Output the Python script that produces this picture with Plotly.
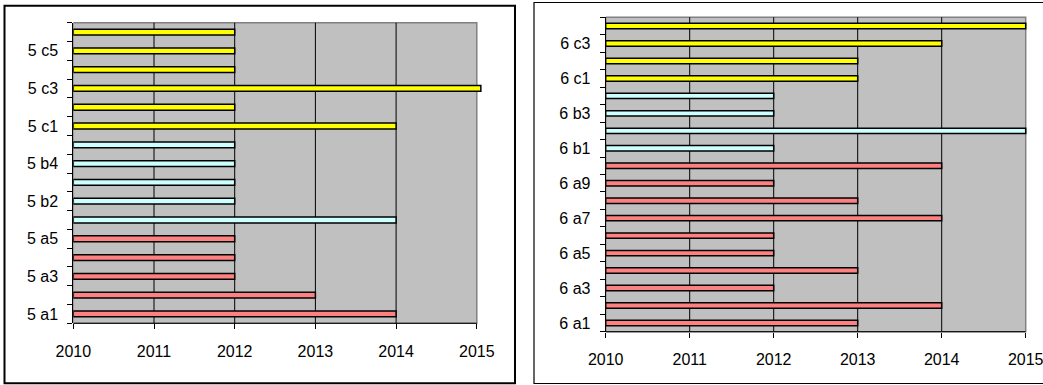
import plotly.graph_objects as go

# ---------------- data ----------------
left_a_labels = ["5 a1", "5 a2", "5 a3", "5 a4", "5 a5"]
left_a_values = [2014, 2013, 2012, 2012, 2012]
left_b_labels = ["5 b1", "5 b2", "5 b3", "5 b4", "5 b5"]
left_b_values = [2014, 2012, 2012, 2012, 2012]
left_c_labels = ["5 c1", "5 c2", "5 c3", "5 c4", "5 c5", "5 c6"]
left_c_values = [2014, 2012, 2015.05, 2012, 2012, 2012]

right_a_labels = ["6 a1", "6 a2", "6 a3", "6 a4", "6 a5", "6 a6", "6 a7", "6 a8", "6 a9", "6 a10"]
right_a_values = [2013, 2014, 2012, 2013, 2012, 2012, 2014, 2013, 2012, 2014]
right_b_labels = ["6 b1", "6 b2", "6 b3", "6 b4"]
right_b_values = [2012, 2015, 2012, 2012]
right_c_labels = ["6 c1", "6 c2", "6 c3", "6 c4"]
right_c_values = [2013, 2013, 2014, 2015]

year_ticks = [2010, 2011, 2012, 2013, 2014, 2015]
BASE_YEAR = 2010

COLORS = {"a": "#FF8080", "b": "#CCFFFF", "c": "#FFFF00"}
FONT = "Liberation Sans, Arial, sans-serif"
W, H = 1043, 385

fig = go.Figure()


def add_chart(groups, xa, ya, px_left, px_per_year, py_top, py_bottom):
    labels_all = []
    start = 0
    for key, labels, values in groups:
        idx = list(range(start, start + len(labels)))
        fig.add_trace(go.Bar(
            y=idx, x=[v - BASE_YEAR for v in values], base=BASE_YEAR,
            orientation="h", xaxis=xa, yaxis=ya,
            marker=dict(color=COLORS[key], line=dict(color="black", width=1.5)),
            showlegend=False, hoverinfo="skip",
        ))
        labels_all += labels
        start += len(labels)
    n = len(labels_all)
    xmax = year_ticks[-1] + 0.1
    dom_x = [px_left / W, (px_left + px_per_year * (xmax - year_ticks[0])) / W]
    dom_y = [(H - py_bottom) / H, (H - py_top) / H]
    axname_x = "xaxis" + xa[1:]
    axname_y = "yaxis" + ya[1:]
    fig.update_layout(**{
        axname_x: dict(
            domain=dom_x, range=[year_ticks[0], xmax], anchor=ya, automargin=False,
            tickvals=year_ticks, ticktext=[str(t) for t in year_ticks],
            ticks="outside", ticklen=5, tickcolor="black", tickwidth=1,
            showgrid=False, zeroline=False, showline=False,
            ticklabelstandoff=8, ticklabeloverflow="allow",
            tickfont=dict(family=FONT, size=16, color="black"),
            fixedrange=True,
        ),
        axname_y: dict(
            domain=dom_y, range=[-0.5, n - 0.5], anchor=xa, automargin=False,
            tickvals=list(range(0, n, 2)), ticktext=labels_all[::2],
            ticks="", showgrid=False, zeroline=False,
            showline=True, linecolor="black", linewidth=1,
            minor=dict(tickvals=[i - 0.5 for i in range(n + 1)], ticks="outside",
                       ticklen=5, tickcolor="black", tickwidth=1, showgrid=False),
            ticklabelstandoff=11, ticklabeloverflow="allow",
            tickfont=dict(family=FONT, size=16, color="black"),
            fixedrange=True,
        ),
    })
    yd = ya + " domain"
    # plot area background and border
    fig.add_shape(type="rect", xref=xa, yref=yd, x0=year_ticks[0], x1=year_ticks[-1], y0=0, y1=1,
                  fillcolor="#C0C0C0", line=dict(color="#808080", width=1.5), layer="below")
    # gridlines
    for t in year_ticks[1:-1]:
        fig.add_shape(type="line", xref=xa, yref=yd, x0=t, x1=t, y0=0, y1=1,
                      line=dict(color="black", width=1), layer="below")
    # bottom axis line
    fig.add_shape(type="line", xref=xa, yref=yd, x0=year_ticks[0], x1=year_ticks[-1], y0=0, y1=0,
                  line=dict(color="black", width=1), layer="below")


add_chart([("a", left_a_labels, left_a_values),
           ("b", left_b_labels, left_b_values),
           ("c", left_c_labels, left_c_values)],
          "x", "y", 73.3, 80.7, 22.7, 323.3)
add_chart([("a", right_a_labels, right_a_values),
           ("b", right_b_labels, right_b_values),
           ("c", right_c_labels, right_c_values)],
          "x2", "y2", 605.7, 84.0, 17.3, 331.7)

# chart borders
fig.add_shape(type="rect", xref="paper", yref="paper",
              x0=4.5 / W, x1=515 / W, y0=(H - 383.3) / H, y1=(H - 5.7) / H,
              line=dict(color="black", width=2), fillcolor="rgba(0,0,0,0)", layer="above")
fig.add_shape(type="rect", xref="paper", yref="paper",
              x0=534 / W, x1=1.02, y0=(H - 383.5) / H, y1=(H - 2.5) / H,
              line=dict(color="black", width=1.2), fillcolor="rgba(0,0,0,0)", layer="above")

fig.update_layout(
    width=W, height=H, margin=dict(l=0, r=0, t=0, b=0, autoexpand=False),
    paper_bgcolor="white", plot_bgcolor="rgba(0,0,0,0)",
    barmode="overlay", bargap=0.69,
    font=dict(family=FONT, size=16, color="black"),
    showlegend=False,
)

fig.write_html("out.html")
